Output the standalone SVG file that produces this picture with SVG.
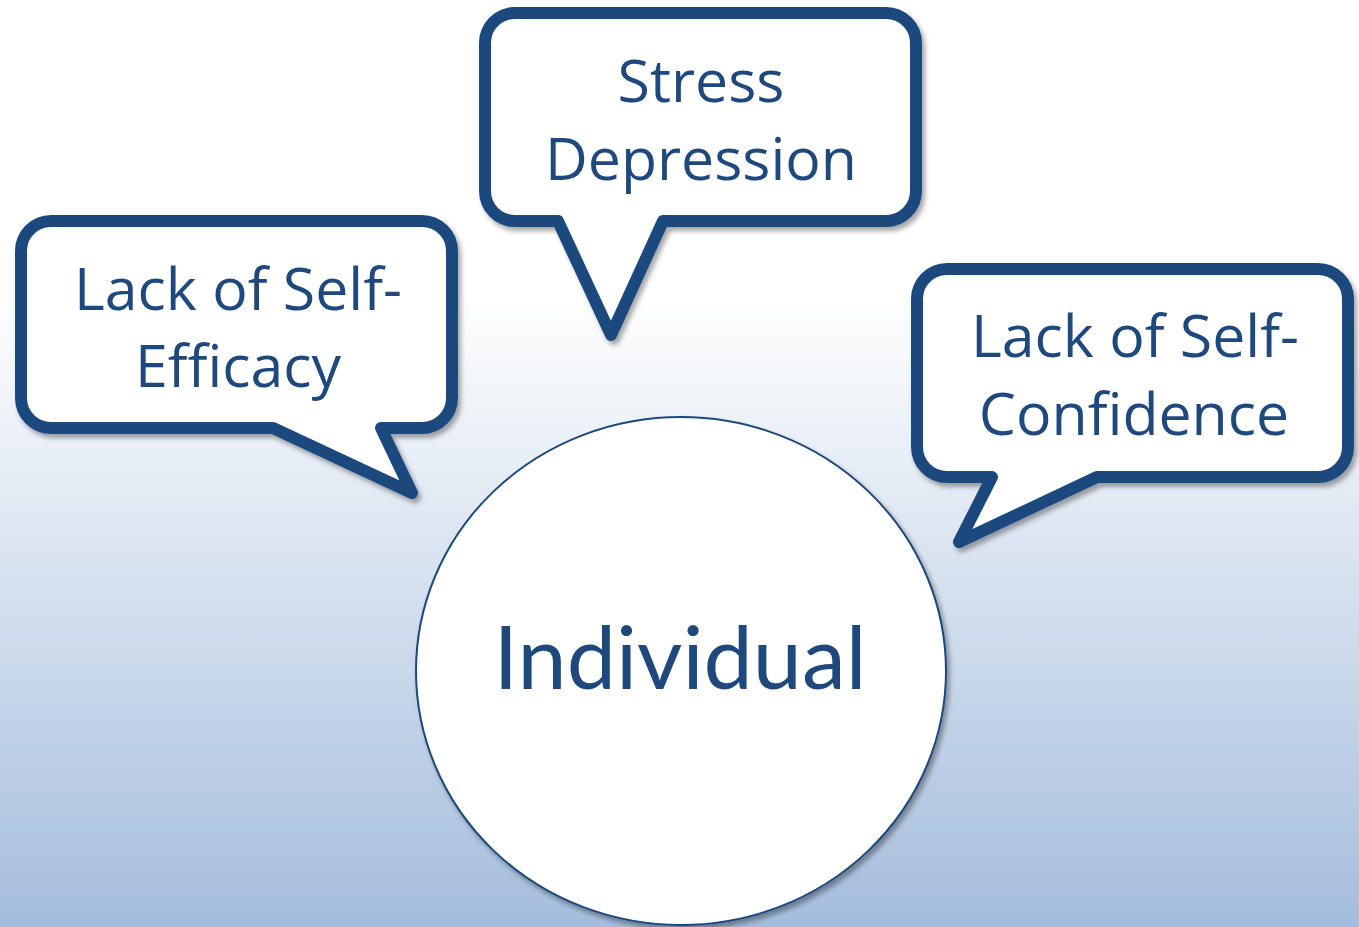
<svg xmlns="http://www.w3.org/2000/svg" width="1359" height="927" viewBox="0 0 1359 927">
  <style>
    .bubble { fill: #ffffff; stroke: #1f497d; stroke-width: 12; stroke-linejoin: round; filter: url(#shadow); }
    .lbl { font-family: "Open Sans", "Liberation Sans", sans-serif; font-size: 59px; fill: #1f497d; text-anchor: middle; }
    .core { font-family: Lato, "Open Sans", sans-serif; font-size: 88px; fill: #1f497d; text-anchor: middle; }
  </style>
  <defs>
    <linearGradient id="bg" x1="0" y1="0" x2="0" y2="927" gradientUnits="userSpaceOnUse">
      <stop offset="0" stop-color="#ffffff"/>
      <stop offset="0.32" stop-color="#ffffff"/>
      <stop offset="1" stop-color="#a4bddc"/>
    </linearGradient>
    <filter id="shadow" x="-10%" y="-10%" width="125%" height="130%">
      <feDropShadow dx="3" dy="4" stdDeviation="2.5" flood-color="#000000" flood-opacity="0.35"/>
    </filter>
  </defs>
  <rect x="0" y="0" width="1359" height="927" fill="url(#bg)"/>

  <g id="individual">
    <ellipse cx="681" cy="671" rx="265" ry="254" fill="#ffffff" stroke="#1f497d" stroke-width="2" filter="url(#shadow)"/>
    <text class="core" x="680" y="689">Individual</text>
  </g>

  <g id="self-efficacy">
    <path class="bubble" d="M51,221 H422 A30,30 0 0 1 452,251 V398 A30,30 0 0 1 422,428 H381 L412,493 L273,428 H51 A30,30 0 0 1 21,398 V251 A30,30 0 0 1 51,221 Z"/>
    <text class="lbl" x="238" y="310">Lack of Self-</text>
    <text class="lbl" x="238" y="387">Efficacy</text>
  </g>

  <g id="stress-depression">
    <path class="bubble" d="M515,13 H886 A30,30 0 0 1 916,43 V191 A30,30 0 0 1 886,221 H663 L611,335 L558,221 H515 A30,30 0 0 1 485,191 V43 A30,30 0 0 1 515,13 Z"/>
    <text class="lbl" x="701" y="102">Stress</text>
    <text class="lbl" x="701" y="180">Depression</text>
  </g>

  <g id="self-confidence">
    <path class="bubble" d="M947,269 H1318 A30,30 0 0 1 1348,299 V447 A30,30 0 0 1 1318,477 H1097 L959,542 L992,477 H947 A30,30 0 0 1 917,447 V299 A30,30 0 0 1 947,269 Z"/>
    <text class="lbl" x="1135" y="357">Lack of Self-</text>
    <text class="lbl" x="1134" y="435">Confidence</text>
  </g>

  <g id="connectors"/>
</svg>
